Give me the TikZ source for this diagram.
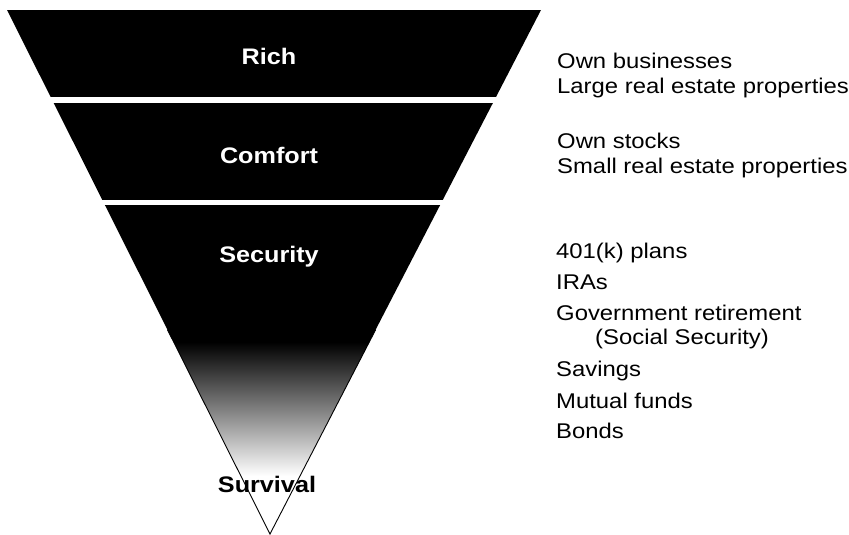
\documentclass[tikz,border=0pt]{standalone}
\usepackage{fontspec}
\setmainfont{Liberation Sans}[FakeStretch=1.12]
\usetikzlibrary{calc}
\tikzset{
  band/.style={ % one black tier of the funnel
    fill=black
  },
  tier/.style={ % name of a tier, inside the funnel
    font=\fontsize{22.5}{26}\selectfont\bfseries, text=white,
    anchor=base, inner sep=0pt
  },
  item/.style={ % one line of the list on the right
    font=\fontsize{21.3}{25}\selectfont, text=black,
    anchor=base west, inner sep=0pt
  }
}

\begin{document}
\begin{tikzpicture}[x=1pt,y=-1pt]
  \useasboundingbox (0,0) rectangle (849,535);
  \coordinate (tl) at (7,10);
  \coordinate (tr) at (541,10);
  \coordinate (apex) at (270,534);

  % the funnel
  \begin{scope}
    \clip (tl) -- (tr) -- (apex) -- cycle;
    \fill[band] (0,10) rectangle (849,97);
    \fill[band] (0,103) rectangle (849,200);
    \fill[band] (0,205) rectangle (849,343);
    \shade[top color=black, bottom color=white, middle color=black!50]
      (0,342) rectangle (849,476);
  \end{scope}
  \draw[line width=0.9pt] ($(tl)!0.61!(apex)$) -- (apex) -- ($(tr)!0.61!(apex)$);

  \node[tier] (rich) at (269,65) {Rich};
  \node[tier] (comfort) at (269,163) {Comfort};
  \node[tier] (security) at (269,262) {Security};
  \node[tier, text=black] (survival) at (267,492) {Survival};

  % what belongs to each tier
  \node[item] (own_biz) at (557,69) {Own businesses};
  \node[item] (large_re) at (557,94) {Large real estate properties};
  \node[item] (own_stocks) at (557,148) {Own stocks};
  \node[item] (small_re) at (557,173) {Small real estate properties};
  \node[item] (plans) at (556,258) {401(k) plans};
  \node[item] (iras) at (556,289) {IRAs};
  \node[item] (gov) at (556,320) {Government retirement};
  \node[item] (socsec) at (595,344) {(Social Security)};
  \node[item] (savings) at (556,376) {Savings};
  \node[item] (mutual) at (556,408) {Mutual funds};
  \node[item] (bonds) at (556,438) {Bonds};
\end{tikzpicture}
\end{document}
